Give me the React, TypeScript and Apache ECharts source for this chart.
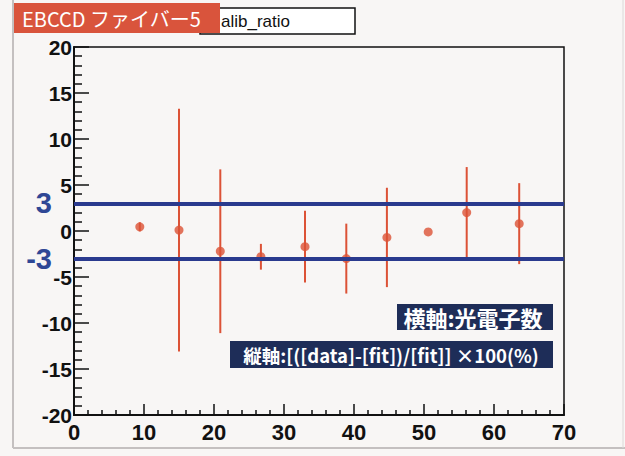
import React, { useEffect, useRef } from "react";
import * as echarts from "echarts";

const xValues = [9.4, 15.0, 20.9, 26.7, 33.0, 38.9, 44.7, 50.6, 56.1, 63.6];
const ratioValues = [0.45, 0.1, -2.2, -2.8, -1.7, -3.0, -0.7, -0.1, 2.0, 0.8];
const errorValues = [0.5, 13.2, 8.9, 1.4, 3.9, 3.8, 5.4, 0, 4.95, 4.4];
const limitLines = [3, -3];

const titleText = "EBCCD ファイバー5";
const histName = "alib_ratio";
const xNote = "横軸:光電子数";
const yNote = "縦軸:[([data]-[fit])/[fit]] ×100(%)";

const RED = "#dc5236";
const BLUE_LINE = "#2a3a8e";
const BLUE_TEXT = "#2f4795";
const NAVY = "#1e2d58";
const FONT = "'Liberation Sans', Arial, sans-serif";
const CJK = "'Noto Sans CJK JP', 'Noto Sans', sans-serif";

export default function App() {
  const ref = useRef<HTMLDivElement>(null);
  useEffect(() => {
    if (!ref.current) return;
    const chart = echarts.init(ref.current, undefined, { renderer: "svg" });
    const points = xValues.map((x, i) => [x, ratioValues[i]]);
    const bars = xValues.map((x, i) => [x, ratioValues[i] - errorValues[i], ratioValues[i] + errorValues[i]]);
    chart.setOption({
      animation: false,
      backgroundColor: "#f8f6f5",
      grid: {
        left: 74,
        right: 61,
        top: 47,
        bottom: 41,
        show: true,
        borderColor: "#111",
        borderWidth: 1.5,
        backgroundColor: "transparent",
      },
      xAxis: {
        type: "value",
        min: 0,
        max: 70,
        interval: 10,
        axisLine: { show: true, onZero: false, lineStyle: { color: "#111", width: 2 } },
        axisTick: { show: true, inside: true, length: 11, lineStyle: { color: "#111", width: 1.5 } },
        minorTick: { show: true, splitNumber: 5, length: 5, lineStyle: { color: "#111", width: 1.5 } },
        splitLine: { show: false },
        axisLabel: { color: "#111", fontFamily: FONT, fontWeight: "bold", fontSize: 22, margin: 6 },
      },
      yAxis: {
        type: "value",
        min: -20,
        max: 20,
        interval: 5,
        axisLine: { show: true, onZero: false, lineStyle: { color: "#111", width: 2 } },
        axisTick: { show: true, inside: true, length: 15, lineStyle: { color: "#111", width: 1.5 } },
        minorTick: { show: true, splitNumber: 5, length: 8, lineStyle: { color: "#111", width: 1.5 } },
        splitLine: { show: false },
        axisLabel: { color: "#111", fontFamily: FONT, fontWeight: "bold", fontSize: 21, margin: 2 },
      },
      series: [
        {
          type: "custom",
          z: 3,
          renderItem: (params: any, api: any) => {
            const x = api.value(0);
            const lo = api.coord([x, api.value(1)]);
            const hi = api.coord([x, api.value(2)]);
            return {
              type: "line",
              shape: { x1: lo[0], y1: lo[1], x2: hi[0], y2: hi[1] },
              style: { stroke: RED, lineWidth: 2 },
            };
          },
          data: bars,
        },
        {
          type: "scatter",
          z: 4,
          symbol: "circle",
          symbolSize: 9,
          itemStyle: { color: RED },
          data: points,
        },
        {
          type: "scatter",
          z: 10,
          data: [],
          markLine: {
            silent: true,
            symbol: ["none", "none"],
            lineStyle: { color: BLUE_LINE, width: 4, type: "solid" },
            label: {
              show: true,
              position: "start",
              distance: 22,
              formatter: "{c}",
              color: BLUE_TEXT,
              fontFamily: FONT,
              fontWeight: "bold",
              fontSize: 29,
            },
            data: limitLines.map((v) => ({ yAxis: v })),
          },
        },
      ],
      graphic: [
        { type: "line", shape: { x1: 13, y1: 0, x2: 13, y2: 448 }, style: { stroke: "#c4c0c0", lineWidth: 2 } },
        { type: "line", shape: { x1: 13, y1: 448, x2: 625, y2: 448 }, style: { stroke: "#c4c0c0", lineWidth: 2 } },
        { type: "line", shape: { x1: 623, y1: 0, x2: 623, y2: 448 }, style: { stroke: "#dcd8d8", lineWidth: 1 } },
        {
          type: "rect",
          shape: { x: 200, y: 8, width: 155, height: 26 },
          style: { fill: "#ffffff", stroke: "#111", lineWidth: 1.5 },
        },
        {
          type: "text",
          x: 221,
          y: 21,
          style: { text: histName, fill: "#111", font: `17px ${FONT}`, verticalAlign: "middle", align: "left" },
        },
        { type: "rect", shape: { x: 14, y: 3, width: 206, height: 30 }, style: { fill: "#d9543c" } },
        {
          type: "text",
          x: 22,
          y: 18,
          style: { text: titleText, fill: "#ffffff", font: `20px ${CJK}`, verticalAlign: "middle", align: "left" },
        },
        { type: "rect", shape: { x: 397, y: 304, width: 156, height: 26 }, style: { fill: NAVY } },
        {
          type: "text",
          x: 473,
          y: 317,
          style: { text: xNote, fill: "#ffffff", font: `bold 22px ${CJK}`, verticalAlign: "middle", align: "center" },
        },
        { type: "rect", shape: { x: 230, y: 341, width: 323, height: 27 }, style: { fill: NAVY } },
        {
          type: "text",
          x: 391,
          y: 354.5,
          style: { text: yNote, fill: "#ffffff", font: `bold 18.5px ${CJK}`, verticalAlign: "middle", align: "center" },
        },
      ],
    });
    return () => chart.dispose();
  }, []);
  return <div ref={ref} style={{ position: "fixed", left: 0, top: 0, width: 625, height: 456 }} />;
}
